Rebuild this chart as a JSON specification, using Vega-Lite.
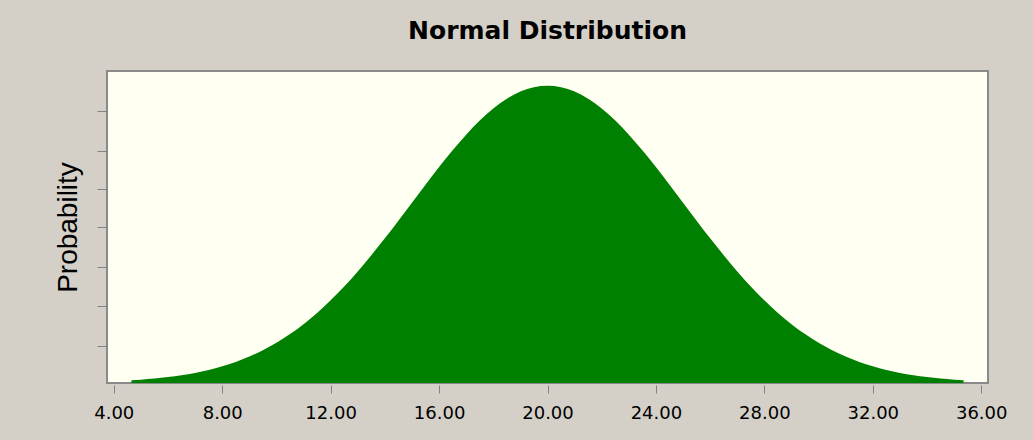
{
  "$schema": "https://vega.github.io/schema/vega-lite/v6.json",
  "width": 881,
  "height": 312,
  "autosize": {"type": "none"},
  "padding": {"left": 107, "top": 71, "right": 45, "bottom": 57},
  "background": "#d4d0c8",
  "title": {
    "text": "Normal Distribution",
    "font": "DejaVu Sans",
    "fontSize": 25,
    "fontWeight": "bold",
    "color": "#000000",
    "anchor": "middle",
    "baseline": "alphabetic",
    "offset": 7
  },
  "config": {
    "view": {"fill": "#fffff2", "stroke": "#8a8a8a", "strokeWidth": 2}
  },
  "data": {
    "values": [
      {"x": 4.65, "p": 0.000717},
      {"x": 5.0, "p": 0.000886},
      {"x": 5.5, "p": 0.001191},
      {"x": 6.0, "p": 0.001583},
      {"x": 6.5, "p": 0.002084},
      {"x": 7.0, "p": 0.002717},
      {"x": 7.5, "p": 0.003506},
      {"x": 8.0, "p": 0.004479},
      {"x": 8.5, "p": 0.005665},
      {"x": 9.0, "p": 0.007095},
      {"x": 9.5, "p": 0.008797},
      {"x": 10.0, "p": 0.010798},
      {"x": 10.5, "p": 0.013123},
      {"x": 11.0, "p": 0.01579},
      {"x": 11.5, "p": 0.01881},
      {"x": 12.0, "p": 0.022184},
      {"x": 12.5, "p": 0.025904},
      {"x": 13.0, "p": 0.029946},
      {"x": 13.5, "p": 0.034274},
      {"x": 14.0, "p": 0.038837},
      {"x": 14.5, "p": 0.04357},
      {"x": 15.0, "p": 0.048394},
      {"x": 15.5, "p": 0.053217},
      {"x": 16.0, "p": 0.057938},
      {"x": 16.5, "p": 0.062452},
      {"x": 17.0, "p": 0.066645},
      {"x": 17.5, "p": 0.070413},
      {"x": 18.0, "p": 0.073654},
      {"x": 18.5, "p": 0.076278},
      {"x": 19.0, "p": 0.078209},
      {"x": 19.5, "p": 0.079391},
      {"x": 20.0, "p": 0.079788},
      {"x": 20.5, "p": 0.079391},
      {"x": 21.0, "p": 0.078209},
      {"x": 21.5, "p": 0.076278},
      {"x": 22.0, "p": 0.073654},
      {"x": 22.5, "p": 0.070413},
      {"x": 23.0, "p": 0.066645},
      {"x": 23.5, "p": 0.062452},
      {"x": 24.0, "p": 0.057938},
      {"x": 24.5, "p": 0.053217},
      {"x": 25.0, "p": 0.048394},
      {"x": 25.5, "p": 0.04357},
      {"x": 26.0, "p": 0.038837},
      {"x": 26.5, "p": 0.034274},
      {"x": 27.0, "p": 0.029946},
      {"x": 27.5, "p": 0.025904},
      {"x": 28.0, "p": 0.022184},
      {"x": 28.5, "p": 0.01881},
      {"x": 29.0, "p": 0.01579},
      {"x": 29.5, "p": 0.013123},
      {"x": 30.0, "p": 0.010798},
      {"x": 30.5, "p": 0.008797},
      {"x": 31.0, "p": 0.007095},
      {"x": 31.5, "p": 0.005665},
      {"x": 32.0, "p": 0.004479},
      {"x": 32.5, "p": 0.003506},
      {"x": 33.0, "p": 0.002717},
      {"x": 33.5, "p": 0.002084},
      {"x": 34.0, "p": 0.001583},
      {"x": 34.5, "p": 0.001191},
      {"x": 35.0, "p": 0.000886},
      {"x": 35.35, "p": 0.000717}
    ]
  },
  "mark": {"type": "area", "color": "#008000", "interpolate": "monotone", "opacity": 1},
  "encoding": {
    "x": {
      "field": "x",
      "type": "quantitative",
      "scale": {"domain": [3.75, 36.25], "nice": false, "zero": false},
      "axis": {
        "values": [4, 8, 12, 16, 20, 24, 28, 32, 36],
        "format": ".2f",
        "labelFont": "DejaVu Sans",
        "labelFontSize": 18,
        "labelColor": "#000000",
        "labelPadding": 11,
        "tickColor": "#808080",
        "tickSize": 8,
        "tickWidth": 1,
        "offset": 2,
        "domain": false,
        "grid": false,
        "title": null
      }
    },
    "y": {
      "field": "p",
      "type": "quantitative",
      "scale": {"domain": [0, 0.08373], "nice": false},
      "axis": {
        "values": [0.01001, 0.02074, 0.03105, 0.04179, 0.05207, 0.06234, 0.0730],
        "labels": false,
        "domain": false,
        "grid": false,
        "tickColor": "#808080",
        "tickSize": 10,
        "tickWidth": 1,
        "title": "Probability",
        "titleFont": "Liberation Sans",
        "titleFontSize": 28,
        "titleFontWeight": "normal",
        "titleColor": "#000000",
        "titlePadding": 14
      }
    }
  }
}
